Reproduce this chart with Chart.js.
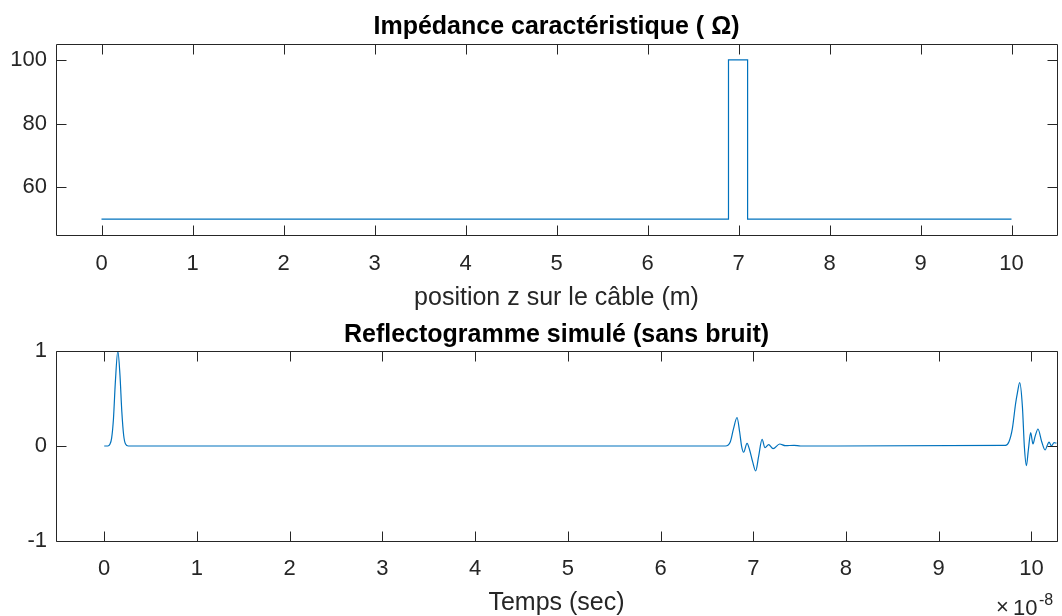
<!DOCTYPE html>
<html>
<head>
<meta charset="utf-8">
<script src="https://cdn.jsdelivr.net/npm/chart.js@4.4.1/dist/chart.umd.min.js"></script>
<style>
  html, body { margin: 0; padding: 0; background: #ffffff; }
  #wrap { position: relative; width: 1062px; height: 616px; overflow: hidden; }
  canvas { position: absolute; left: 0; }
</style>
</head>
<body>
<div id="wrap">
  <canvas id="top" width="1062" height="315" style="top:0px"></canvas>
  <canvas id="bot" width="1062" height="304" style="top:315px"></canvas>
</div>
<script>
// ---------- DATA ----------
// Top plot: characteristic impedance along the cable
const positionZ = [0, 6.89, 6.89, 7.1, 7.1, 10];
const impedance = [50, 50, 100, 100, 50, 50];
const topXTicks = [0, 1, 2, 3, 4, 5, 6, 7, 8, 9, 10];
const topYTicks = [60, 80, 100];

// Bottom plot: simulated reflectogram (time in units of 1e-8 s)
const temps = [0, 0.04, 0.06, 0.08, 0.10, 0.12, 0.147, 0.17, 0.19, 0.21, 0.23, 0.26,
  6.70, 6.753, 6.788, 6.825, 6.853, 6.875, 6.896, 6.933, 6.961, 6.993, 7.026, 7.058,
  7.095, 7.127, 7.166, 7.214, 7.285, 7.347, 7.44, 7.51,
  9.72, 9.758, 9.795, 9.83, 9.849, 9.874, 9.903, 9.924, 9.946, 9.967, 9.992, 10.017,
  10.039, 10.071, 10.111, 10.147, 10.173, 10.19, 10.216, 10.245, 10.27];
const reflecto = [0, 0, 0.015, 0.083, 0.29, 0.67, 1.0, 0.745, 0.36, 0.11, 0.02, 0,
  0, 0.045, 0.186, 0.30, 0.15, -0.007, -0.066, 0.028, -0.042, -0.165, -0.263, -0.11,
  0.07, -0.018, 0.014, -0.028, 0.021, 0.003, 0.007, 0,
  0.007, 0.045, 0.186, 0.45, 0.56, 0.667, 0.414, -0.007, -0.207, -0.042, 0.14, 0.021,
  0.098, 0.179, 0.045, -0.042, 0.011, 0.042, 0, 0.035, 0.03];
const botXTicks = [0, 1, 2, 3, 4, 5, 6, 7, 8, 9, 10];
const botYTicks = [-1, 0, 1];

// ---------- STYLE ----------
const FONT = "'Liberation Sans', Arial, Helvetica, sans-serif";
const AXC = '#262626';
const LINEC = '#0072BD';

// center the title over the plot area (like MATLAB) instead of the whole canvas
const centerTitle = {
  id: 'centerTitle',
  afterLayout(chart) {
    const tb = chart.titleBlock;
    if (tb) { tb.left = chart.chartArea.left; tb.right = chart.chartArea.right; }
  }
};

const boxTicks = {
  id: 'boxTicks',
  afterDatasetsDraw(chart) {
    const ctx = chart.ctx, a = chart.chartArea;
    const xs = chart.scales.x, ys = chart.scales.y;
    const L = Math.round(a.left) + 0.5, R = Math.round(a.right) + 0.5;
    const T = Math.round(a.top) + 0.5, B = Math.round(a.bottom) + 0.5;
    ctx.save();
    ctx.strokeStyle = AXC;
    ctx.lineWidth = 1;
    ctx.beginPath();
    ctx.rect(L, T, R - L, B - T);
    xs.ticks.forEach(t => {
      const px = Math.round(xs.getPixelForValue(t.value)) + 0.5;
      ctx.moveTo(px, B); ctx.lineTo(px, B - 10);
      ctx.moveTo(px, T); ctx.lineTo(px, T + 10);
    });
    ys.ticks.forEach(t => {
      const py = Math.round(ys.getPixelForValue(t.value)) + 0.5;
      ctx.moveTo(L, py); ctx.lineTo(L + 10, py);
      ctx.moveTo(R, py); ctx.lineTo(R - 10, py);
    });
    ctx.stroke();
    ctx.restore();
  }
};

const exponentLabel = {
  id: 'exponentLabel',
  afterDraw(chart) {
    const ctx = chart.ctx;
    ctx.save();
    ctx.fillStyle = AXC;
    ctx.textBaseline = 'alphabetic';
    ctx.textAlign = 'left';
    ctx.font = "22px " + FONT;
    ctx.fillText('\u00d7', 996, 299);
    ctx.font = "22px " + FONT;
    ctx.fillText('10', 1013, 300);
    ctx.font = "16px " + FONT;
    ctx.fillText('-8', 1039, 290);
    ctx.restore();
  }
};

function makeChart(id, cfg) {
  return new Chart(document.getElementById(id), {
    type: 'line',
    data: { datasets: [{
      data: cfg.xs.map((x, i) => ({ x: x, y: cfg.ys[i] })),
      borderColor: LINEC, borderWidth: 1.2, pointRadius: 0, fill: false,
      tension: cfg.smooth ? 0.4 : 0,
      cubicInterpolationMode: cfg.smooth ? 'monotone' : 'default'
    }]},
    options: {
      responsive: false, animation: false, devicePixelRatio: 1,
      layout: { padding: { left: 0, right: 5, top: 0, bottom: 0 } },
      plugins: {
        legend: { display: false }, tooltip: { enabled: false },
        title: { display: true, text: cfg.title, color: '#000000',
          font: { family: FONT, size: 25, weight: 'bold' },
          padding: cfg.titlePad }
      },
      scales: {
        x: {
          type: 'linear', min: cfg.xmin, max: cfg.xmax,
          grid: { display: false, drawTicks: false }, border: { display: false },
          afterBuildTicks: s => { s.ticks = cfg.xticks.map(v => ({ value: v })); },
          afterFit: s => { s.height = cfg.xHeight; },
          ticks: { color: AXC, font: { family: FONT, size: 22 }, padding: cfg.xTickPad,
                   maxRotation: 0, autoSkip: false, callback: v => String(v) },
          title: { display: true, text: cfg.xlabel, color: AXC,
                   font: { family: FONT, size: 25 }, padding: { top: 0, bottom: cfg.xTitlePad } }
        },
        y: {
          type: 'linear', min: cfg.ymin, max: cfg.ymax,
          grid: { display: false, drawTicks: false }, border: { display: false },
          afterBuildTicks: s => { s.ticks = cfg.yticks.map(v => ({ value: v })); },
          afterFit: s => { s.width = 56; },
          ticks: { color: AXC, font: { family: FONT, size: 22 }, padding: 9,
                   callback: v => String(v) }
        }
      }
    },
    plugins: cfg.plugins
  });
}

makeChart('top', {
  xs: positionZ, ys: impedance, smooth: false,
  title: 'Imp\u00e9dance caract\u00e9ristique ( \u03a9)',
  titlePad: { top: 12, bottom: 2 },
  xmin: -0.5, xmax: 10.5, ymin: 45, ymax: 105,
  xticks: topXTicks, yticks: topYTicks,
  xHeight: 80, xTickPad: 16, xTitlePad: 2,
  xlabel: 'position z sur le c\u00e2ble (m)',
  plugins: [centerTitle, boxTicks]
});

makeChart('bot', {
  xs: temps, ys: reflecto, smooth: true,
  title: 'Reflectogramme simul\u00e9 (sans bruit)',
  titlePad: { top: 5, bottom: 1 },
  xmin: -0.52, xmax: 10.276, ymin: -1, ymax: 1,
  xticks: botXTicks, yticks: botYTicks,
  xHeight: 78, xTickPad: 15, xTitlePad: 1,
  xlabel: 'Temps (sec)',
  plugins: [centerTitle, boxTicks, exponentLabel]
});
</script>
</body>
</html>
